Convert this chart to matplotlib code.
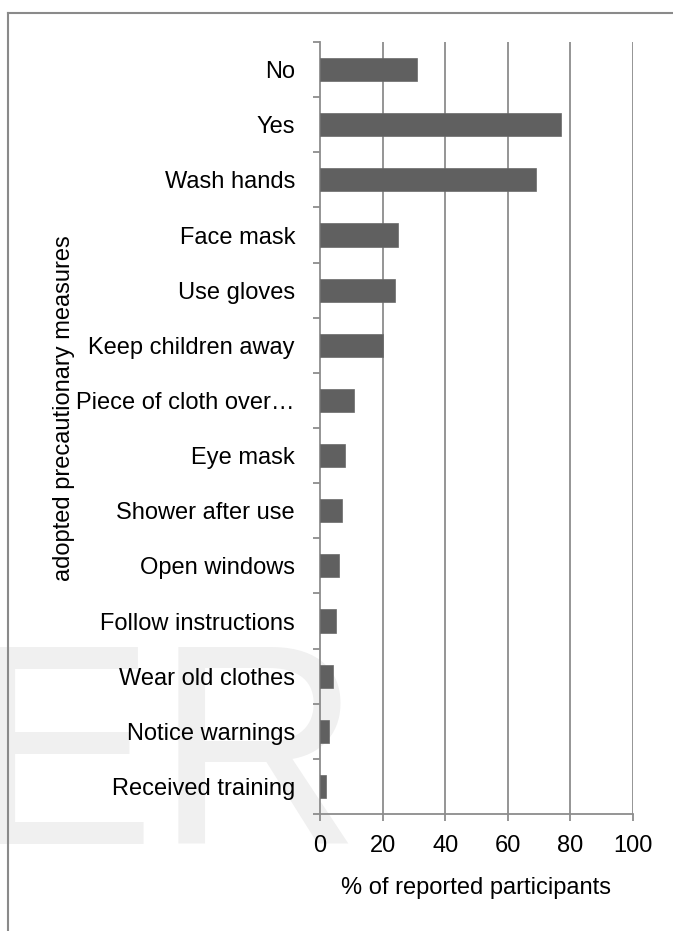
import numpy as np
import matplotlib.pyplot as plt
from matplotlib.lines import Line2D

measures = ['No', 'Yes', 'Wash hands', 'Face mask', 'Use gloves',
            'Keep children away', 'Piece of cloth over…', 'Eye mask',
            'Shower after use', 'Open windows', 'Follow instructions',
            'Wear old clothes', 'Notice warnings', 'Received training']
percent = [31, 77, 69, 25, 24, 20, 11, 8, 7, 6, 5, 4, 3, 2]
xticks = [0, 20, 40, 60, 80, 100]

plt.rcParams['font.family'] = ['Liberation Sans', 'DejaVu Sans']
W, H = 673, 931
fig = plt.figure(figsize=(W / 100, H / 100), dpi=100)

# watermark behind everything
fig.text(-36 / W, 1 - 844 / H, 'ER', fontsize=206, color='#f0f0f0',
         ha='left', va='baseline', zorder=-5)

# frame lines
fig.add_artist(Line2D([8 / W, 1], [1 - 13 / H] * 2, color='#8a8a8a', lw=1.5))
fig.add_artist(Line2D([8 / W] * 2, [0, 1 - 13 / H], color='#8a8a8a', lw=1.5))

ax = fig.add_axes([320 / W, 1 - 814 / H, (633 - 320) / W, (814 - 42) / H])
ax.set_zorder(2)
ax.patch.set_alpha(0)

y = np.arange(len(measures))
ax.barh(y, percent, height=0.42, color='#606060', edgecolor='#6a6a6a',
        linewidth=0.5, zorder=3)
ax.set_ylim(len(measures) - 0.5, -0.5)
ax.set_xlim(0, 100)

ax.set_xticks(xticks)
ax.set_xticklabels([str(t) for t in xticks])
ax.set_yticks(y)
ax.set_yticklabels(measures)
ax.set_yticks(np.arange(len(measures) + 1) - 0.5, minor=True)

grid_c = '#8c8c8c'
for t in xticks[1:]:
    ax.axvline(t, color=grid_c, lw=1.3, zorder=1)

for s in ['top', 'right']:
    ax.spines[s].set_visible(False)
for s in ['left', 'bottom']:
    ax.spines[s].set_color(grid_c)
    ax.spines[s].set_linewidth(1.3)

ax.tick_params(axis='y', which='major', length=0, pad=18, labelsize=17)
ax.tick_params(axis='y', which='minor', length=5, width=1.3, color=grid_c)
ax.tick_params(axis='x', which='major', length=5, width=1.3, color=grid_c,
               pad=10, labelsize=17)

fig.text(476 / W, 1 - 888 / H, '% of reported participants', fontsize=17,
         ha='center', va='center', zorder=3)
fig.text(64 / W, 1 - 408 / H, 'adopted precautionary measures', fontsize=17,
         rotation=90, ha='center', va='center', zorder=3)

fig.savefig('out.png', dpi=100)
